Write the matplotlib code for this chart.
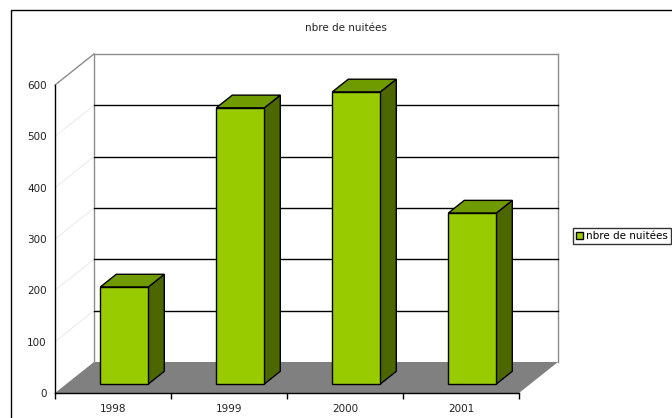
import matplotlib
matplotlib.use("Agg")
import matplotlib.pyplot as plt
from matplotlib.patches import Polygon, Rectangle

plt.rcParams["font.family"] = ["DejaVu Sans"]

years = ["1998", "1999", "2000", "2001"]
nuitees = [189, 538, 569, 333]
yticks = [0, 100, 200, 300, 400, 500, 600]
title = "nbre de nuitées"

FRONT = "#99cc00"
TOP = "#6f9a00"
SIDE = "#4c6600"
FLOOR = "#808080"

# depth of the 3d box in data units
dx, dy = 0.336, 60.4
f0, f1 = 0.29, 0.70
w = 0.414

fig = plt.figure(figsize=(6.72, 4.18), dpi=100)
ax = fig.add_axes([55 / 672, 25 / 418, 464 / 672, 308 / 418])
ax.set_xlim(0, len(years))
ax.set_ylim(0, 600)

# outer chart frame (runs off the right/bottom)
fig.patches.append(Rectangle((11 / 672, -0.1), 1.0, 1 - 10 / 418 + 0.1,
                             transform=fig.transFigure, fill=False,
                             ec="black", lw=1.0))

n = len(years)
# floor
ax.add_patch(Polygon([(0, 0), (n, 0), (n + dx, dy), (dx, dy)], closed=True,
                     fc=FLOOR, ec="none", zorder=1, clip_on=False))

# walls
wall = dict(color="#8c8c8c", lw=1.0, clip_on=False, zorder=1)
ax.plot([0, dx], [600, 600 + dy], **wall)
ax.plot([dx, dx], [dy, 600 + dy], **wall)
ax.plot([n + dx, n + dx], [dy, 600 + dy], **wall)
ax.plot([dx, n + dx], [600 + dy, 600 + dy], **wall)
for v in yticks[1:-1]:
    ax.plot([0, dx], [v, v + dy], color="#ececec", lw=0.8, clip_on=False, zorder=1)
    ax.plot([dx, n + dx], [v + dy, v + dy], color="black", lw=1.0,
            clip_on=False, zorder=1)

# bars
for i, v in enumerate(nuitees):
    x0 = i + 0.5 - w / 2 + f0 * dx
    y0 = f0 * dy
    top = v + y0
    ddx, ddy = (f1 - f0) * dx, (f1 - f0) * dy
    ax.add_patch(Polygon([(x0 + w, y0), (x0 + w + ddx, y0 + ddy),
                          (x0 + w + ddx, top + ddy), (x0 + w, top)],
                         closed=True, fc=SIDE, ec="black", lw=1.0,
                         zorder=3, clip_on=False))
    ax.add_patch(Polygon([(x0, top), (x0 + w, top), (x0 + w + ddx, top + ddy),
                          (x0 + ddx, top + ddy)],
                         closed=True, fc=TOP, ec="black", lw=1.0,
                         zorder=3, clip_on=False))
    ax.add_patch(Rectangle((x0, y0), w, v, fc=FRONT, ec="black", lw=1.0,
                           zorder=4, clip_on=False))

for s in ["top", "right"]:
    ax.spines[s].set_visible(False)
for s in ["left", "bottom"]:
    ax.spines[s].set_linewidth(1.0)
    ax.spines[s].set_zorder(5)

ax.set_yticks(yticks)
ax.set_yticklabels([str(t) for t in yticks], fontsize=7.5, color="#222222")
ax.tick_params(axis="y", length=0, pad=6)
ax.set_xticks(range(n + 1))
ax.set_xticklabels([])
ax.tick_params(axis="x", which="major", length=4, width=1.0, direction="out")
ax.set_xticks([i + 0.5 for i in range(n)], minor=True)
ax.set_xticklabels(years, minor=True, fontsize=7.5, color="#222222")
ax.tick_params(axis="x", which="minor", length=0, pad=8)
ax.patch.set_visible(False)

fig.text(346 / 672, 1 - 28 / 418, title, ha="center", va="center",
         fontsize=7.5, color="#222222")

handle = Rectangle((0, 0), 1, 1, fc=FRONT, ec="black", lw=1.0)
leg = fig.legend([handle], [title], loc="center left",
                 bbox_to_anchor=(573 / 672, 1 - 236 / 418),
                 fontsize=7.5, frameon=True, fancybox=False,
                 handlelength=0.7, handleheight=0.7, handletextpad=0.3,
                 borderpad=0.25, borderaxespad=0)
leg.get_frame().set_edgecolor("black")
leg.get_frame().set_linewidth(1.0)

fig.savefig("out.png", dpi=100)
